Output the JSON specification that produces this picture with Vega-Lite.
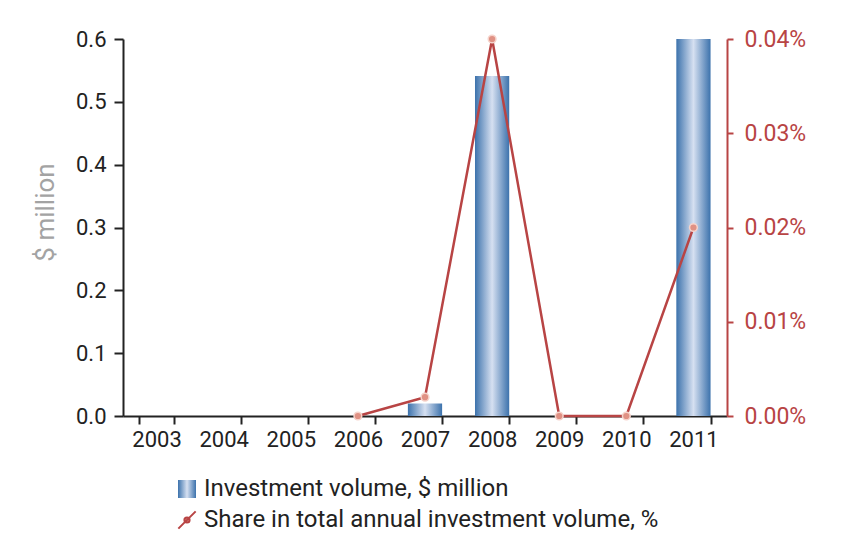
{
  "$schema": "https://vega.github.io/schema/vega-lite/v6.json",
  "autosize": "none",
  "width": 604,
  "height": 377,
  "padding": {"left": 123, "top": 39, "right": 117, "bottom": 128},
  "background": "white",
  "config": {
    "view": {"stroke": null},
    "font": "Roboto",
    "axis": {"labelFont": "Roboto", "titleFont": "Roboto", "grid": false}
  },
  "data": {
    "values": [
      {"year": "2003", "volume": 0, "share": null},
      {"year": "2004", "volume": 0, "share": null},
      {"year": "2005", "volume": 0, "share": null},
      {"year": "2006", "volume": 0, "share": 0},
      {"year": "2007", "volume": 0.02, "share": 0.00002},
      {"year": "2008", "volume": 0.541, "share": 0.0004},
      {"year": "2009", "volume": 0, "share": 0},
      {"year": "2010", "volume": 0, "share": 0},
      {"year": "2011", "volume": 0.6, "share": 0.0002}
    ]
  },
  "encoding": {
    "x": {
      "field": "year",
      "type": "ordinal",
      "scale": {"paddingInner": 0.49, "paddingOuter": 0.245},
      "axis": {
        "title": null,
        "labelAngle": 0,
        "tickBand": "extent",
        "domainColor": "#222222",
        "domainWidth": 2,
        "tickColor": "#222222",
        "tickWidth": 2,
        "tickSize": 8,
        "labelFontSize": 22,
        "labelColor": "#222222",
        "labelPadding": 5
      }
    }
  },
  "layer": [
    {
      "mark": {
        "type": "bar",
        "fill": {"gradient": "linear", "x1": 0, "y1": 0, "x2": 1, "y2": 0,
          "stops": [
            {"offset": 0, "color": "#3c72ac"},
            {"offset": 0.5, "color": "#d6e0f1"},
            {"offset": 1, "color": "#3c72ac"}
          ]}
      },
      "encoding": {
        "y": {
          "field": "volume",
          "type": "quantitative",
          "scale": {"domain": [0, 0.6], "nice": false},
          "axis": {
            "title": "$ million",
            "titleColor": "#a3a3a3",
            "titleFontSize": 26,
            "titleFontWeight": "normal",
            "titlePadding": 17,
            "titleAlign": "center",
            "titleY": 173,
            "values": [0, 0.1, 0.2, 0.3, 0.4, 0.5, 0.6],
            "format": ".1f",
            "domainColor": "#222222",
            "domainWidth": 2,
            "tickColor": "#222222",
            "tickWidth": 2,
            "tickSize": 9,
            "labelFontSize": 22,
            "labelColor": "#222222",
            "labelPadding": 8
          }
        },
        "opacity": {
          "datum": "Investment volume, $ million",
          "type": "nominal",
          "scale": {"range": [1]},
          "legend": {
            "title": null,
            "orient": "none",
            "legendX": 52,
            "legendY": 438,
            "padding": 0,
            "symbolType": "square",
            "symbolSize": 324,
            "symbolStrokeWidth": 0,
            "symbolOpacity": 1,
            "labelFontSize": 24,
            "labelLimit": 0,
            "labelColor": "#222222",
            "labelOffset": 5
          }
        }
      }
    },
    {
      "transform": [{"filter": "datum.share != null"}],
      "mark": {"type": "line", "strokeWidth": 2.5},
      "encoding": {
        "y": {
          "field": "share",
          "type": "quantitative",
          "scale": {"domain": [0, 0.0004], "nice": false},
          "axis": {
            "orient": "right",
            "title": null,
            "values": [0, 0.0001, 0.0002, 0.0003, 0.0004],
            "format": ".2%",
            "domainColor": "#b84444",
            "domainWidth": 2,
            "tickColor": "#b84444",
            "tickWidth": 2,
            "tickSize": 6,
            "labelFontSize": 23,
            "labelColor": "#b84444",
            "labelPadding": 11
          }
        },
        "stroke": {
          "datum": "Share in total annual investment volume, %",
          "type": "nominal",
          "scale": {"range": ["#b84444"]},
          "legend": {
            "title": null,
            "orient": "none",
            "legendX": 52,
            "legendY": 469,
            "padding": 0,
            "symbolType": "M-1,1L1,-1M0.3,0A0.3,0.3 0 1,1 -0.3,0A0.3,0.3 0 1,1 0.3,0Z",
            "symbolSize": 300,
            "symbolStrokeWidth": 2,
            "symbolFillColor": "#e29488",
            "labelFontSize": 24,
            "labelLimit": 0,
            "labelColor": "#222222",
            "labelOffset": 5
          }
        }
      }
    },
    {
      "transform": [{"filter": "datum.share != null"}],
      "mark": {"type": "point", "filled": true, "size": 60, "fill": "#e09184", "stroke": "#f6d3cb", "strokeWidth": 1.5, "opacity": 1},
      "encoding": {
        "y": {"field": "share", "type": "quantitative", "scale": {"domain": [0, 0.0004], "nice": false}, "axis": null}
      }
    }
  ],
  "resolve": {"scale": {"y": "independent"}}
}
